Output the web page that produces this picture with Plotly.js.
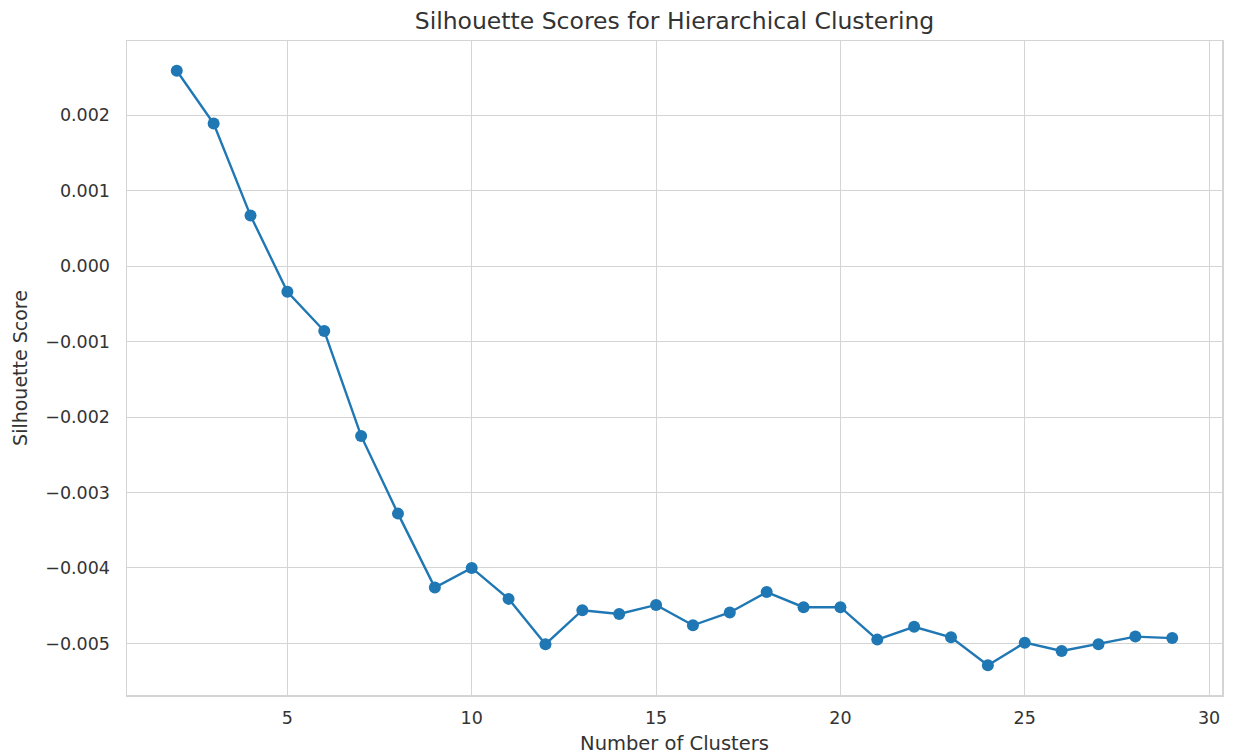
<!DOCTYPE html>
<html>
<head>
<meta charset="utf-8">
<script src="https://cdn.plot.ly/plotly-3.0.1.min.js"></script>
<style>html,body{margin:0;padding:0;background:#fff;}#chart{width:1237px;height:755px;}</style>
</head>
<body>
<div id="chart"></div>
<script>
const clusters = [2,3,4,5,6,7,8,9,10,11,12,13,14,15,16,17,18,19,20,21,22,23,24,25,26,27,28,29];
const scores = [0.00259,0.00189,0.00067,-0.00034,-0.00086,-0.00225,-0.00328,-0.00426,-0.00400,-0.00441,-0.00501,
  -0.00456,-0.00461,-0.00449,-0.00476,-0.00459,-0.00432,-0.00452,-0.00452,-0.00495,-0.00478,-0.00492,
  -0.00529,-0.00499,-0.00510,-0.00501,-0.00491,-0.00493];
const titleText = "Silhouette Scores for Hierarchical Clustering";
const xLabel = "Number of Clusters";
const yLabel = "Silhouette Score";

const txt = '#333333';
const font = 'DejaVu Sans, sans-serif';
const grid = '#d4d4d4';
const trace = {
  x: clusters, y: scores, type: 'scatter', mode: 'lines+markers',
  line: {color: '#1f77b4', width: 2.4},
  marker: {color: '#1f77b4', size: 12},
  hoverinfo: 'x+y'
};
const xmin = Math.min(...clusters), xmax = Math.max(...clusters);
const ymin = Math.min(...scores), ymax = Math.max(...scores);
const xm = (xmax - xmin) * 0.05, ym = (ymax - ymin) * 0.05;
const layout = {
  width: 1237, height: 755,
  margin: {l: 127, r: 15, t: 41, b: 60},
  paper_bgcolor: '#fff', plot_bgcolor: '#fff',
  showlegend: false,
  font: {family: font, color: txt, size: 17},
  title: {text: titleText, font: {family: font, size: 23.5, color: txt}, xref: 'paper', x: 0.5, xanchor: 'center', yref: 'container', y: 0.973, yanchor: 'middle'},
  xaxis: {
    range: [xmin - xm, xmax + xm],
    tick0: 0, dtick: 5,
    showgrid: true, gridcolor: grid, gridwidth: 1,
    zeroline: false, showline: true, linecolor: grid, linewidth: 1.5, mirror: true,
    ticks: '', ticklabelstandoff: 6,
    tickfont: {family: font, size: 17.5, color: txt},
    title: {text: xLabel, font: {family: font, size: 19.5, color: txt}, standoff: 10}
  },
  yaxis: {
    range: [ymin - ym, ymax + ym],
    tick0: 0, dtick: 0.001, tickformat: '.3f',
    showgrid: true, gridcolor: grid, gridwidth: 1,
    zeroline: false, showline: true, linecolor: grid, linewidth: 1.5, mirror: true,
    ticks: '', ticklabelstandoff: 12,
    tickfont: {family: font, size: 17.5, color: txt},
    title: {text: yLabel, font: {family: font, size: 19, color: txt}, standoff: 12}
  }
};
Plotly.newPlot('chart', [trace], layout, {displayModeBar: false, staticPlot: true});
</script>
</body>
</html>
